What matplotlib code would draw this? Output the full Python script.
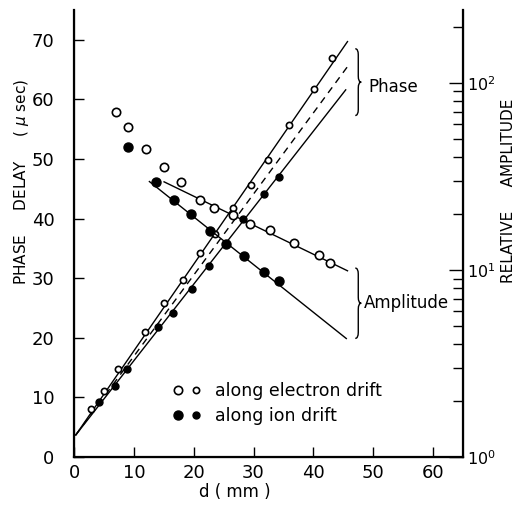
import numpy as np
import matplotlib.pyplot as plt
from matplotlib.path import Path
from matplotlib.patches import PathPatch
from matplotlib.legend_handler import HandlerTuple

# phase delay (usec) vs distance d (mm)
d_phase_e = [2.8, 5.0, 7.3, 11.9, 15.1, 18.2, 21.0, 23.5, 26.6, 29.5, 32.4, 36.0, 40.1, 43.1]
phase_e = [8.0, 11.0, 14.7, 20.9, 25.8, 29.7, 34.3, 37.4, 41.7, 45.7, 49.8, 55.7, 61.8, 67.0]
d_phase_i = [4.1, 6.9, 8.9, 14.1, 16.6, 19.7, 22.6, 25.4, 28.3, 31.7, 34.2]
phase_i = [9.3, 11.9, 14.8, 21.8, 24.1, 28.2, 32.0, 35.7, 39.9, 44.2, 46.9]

# relative amplitude vs d (mm)
d_amp_e = [7.0, 9.1, 12.0, 15.1, 17.9, 21.0, 23.4, 26.5, 29.4, 32.7, 36.8, 41.0, 42.7]
amp_e = [69.7, 58.4, 44.2, 35.4, 29.4, 23.6, 21.5, 19.7, 17.7, 16.4, 14.0, 12.0, 10.9]
d_amp_i = [9.0, 13.7, 16.7, 19.6, 22.7, 25.4, 28.4, 31.7, 34.2]
amp_i = [45.3, 29.4, 23.8, 19.8, 16.2, 13.8, 11.9, 9.8, 8.7]

# fitted lines (end points)
fit_d = [0.3, 45.7]
fit_phase_e = [3.7, 69.7]
fit_phase_mid = [3.7, 65.5]
fit_d_i = [0.3, 45.4]
fit_phase_i = [3.7, 61.6]
fit_d_amp_e = [15.05, 45.7]
fit_amp_e = [29.6, 9.9]
fit_d_amp_i = [12.6, 45.5]
fit_amp_i = [29.7, 4.3]

plt.rcParams['font.family'] = 'DejaVu Sans'

fig = plt.figure(figsize=(5.21, 5.05), dpi=100)
ax = fig.add_axes([74 / 521, 48 / 505, 389 / 521, 447 / 505])
ax2 = ax.twinx()

# phase
ax.plot(fit_d, fit_phase_e, color='black', lw=1.0)
ax.plot(fit_d, fit_phase_mid, color='black', lw=1.0, ls=(0, (5, 4)))
ax.plot(fit_d_i, fit_phase_i, color='black', lw=1.0)
ax.plot(d_phase_e, phase_e, 'o', ms=4.5, mfc='white', mec='black', mew=1.2)
ax.plot(d_phase_i, phase_i, 'o', ms=5, mfc='black', mec='black')

# amplitude
ax2.plot(fit_d_amp_e, fit_amp_e, color='black', lw=1.0)
ax2.plot(fit_d_amp_i, fit_amp_i, color='black', lw=1.0)
ax2.plot(d_amp_e, amp_e, 'o', ms=6, mfc='white', mec='black', mew=1.2)
ax2.plot(d_amp_i, amp_i, 'o', ms=6.5, mfc='black', mec='black')

ax.set_xlim(0, 65)
ax.set_ylim(0, 75)
ax.set_xticks(range(0, 70, 10))
ax.set_yticks(range(0, 80, 10))
ax2.set_yscale('log')
ax2.set_ylim(1, 10 ** 2.39)
ax2.set_yticks([1, 10, 100])
ax2.set_yticklabels([r'$10^0$', r'$10^1$', r'$10^2$'])

ax.spines['top'].set_visible(False)
ax2.spines['top'].set_visible(False)
for s in ['left', 'bottom']:
    ax.spines[s].set_linewidth(1.6)
ax2.spines['right'].set_linewidth(1.6)

ax.tick_params(axis='both', direction='in', length=7, width=1.0, labelsize=13)
ax.tick_params(axis='y', pad=14)
ax.tick_params(axis='x', pad=5)
ax2.tick_params(axis='y', which='major', direction='in', length=10, width=1.0, labelsize=11.5, pad=3)
ax2.tick_params(axis='y', which='minor', direction='in', length=7, width=1.0)

ax.set_xlabel('d ( mm )', fontsize=12)
ax.xaxis.set_label_coords(0.414, -0.058)
ax.set_ylabel('PHASE     DELAY     ( $\\mu$ sec)', fontsize=11)
ax.yaxis.set_label_coords(-0.11, 0.615)
ax2.set_ylabel('RELATIVE     AMPLITUDE', fontsize=11)
ax2.yaxis.set_label_coords(1.097, 0.595)


def brace(x, y0, y1, w, c):
    ym = (y0 + y1) / 2
    xm = x + w / 2
    verts = [(x, y1), (xm, y1), (xm, y1 - c), (xm, ym + c), (xm, ym), (x + w, ym),
             (xm, ym), (xm, ym - c), (xm, y0 + c), (xm, y0), (x, y0)]
    codes = [Path.MOVETO, Path.CURVE3, Path.CURVE3, Path.LINETO, Path.CURVE3, Path.CURVE3,
             Path.CURVE3, Path.CURVE3, Path.LINETO, Path.CURVE3, Path.CURVE3]
    ax.add_patch(PathPatch(Path(verts, codes), fc='none', ec='black', lw=1.0))
    return ym


ym = brace(47.0, 57.3, 68.5, 1.0, 1.0)
ax.text(49.2, ym - 0.8, 'Phase', fontsize=12, va='center', ha='left')
ym = brace(47.0, 19.9, 31.7, 1.0, 1.0)
ax.text(48.5, ym, 'Amplitude', fontsize=12, va='center', ha='left')

# legend
h1, = ax.plot([], [], 'o', ms=6, mfc='white', mec='black', mew=1.2)
h2, = ax.plot([], [], 'o', ms=4.5, mfc='white', mec='black', mew=1.2)
h3, = ax.plot([], [], 'o', ms=6.5, mfc='black', mec='black')
h4, = ax.plot([], [], 'o', ms=5, mfc='black', mec='black')
ax.legend([(h1, h2), (h3, h4)], ['along electron drift', 'along ion drift'],
          handler_map={tuple: HandlerTuple(ndivide=None, pad=0.5)},
          loc='center left', bbox_to_anchor=(0.255, 0.12), frameon=False,
          fontsize=12.5, handlelength=1.6, handletextpad=0.8, labelspacing=0.4,
          borderpad=0, borderaxespad=0)

fig.savefig('out.png', dpi=100)
